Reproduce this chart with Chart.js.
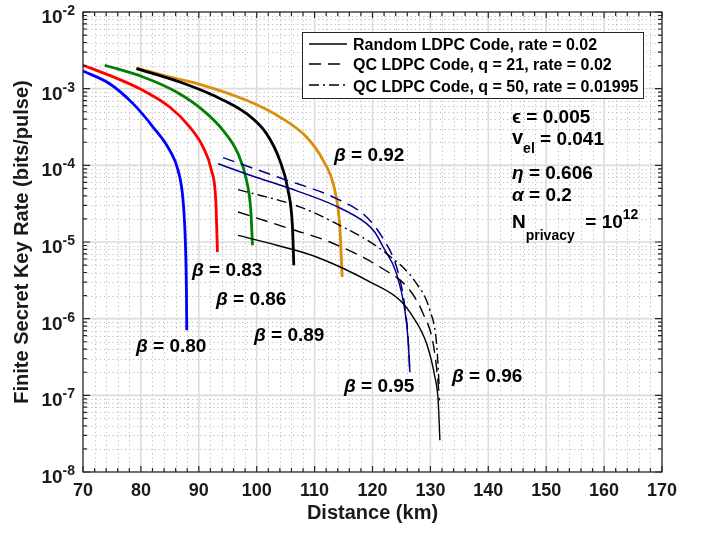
<!DOCTYPE html>
<html><head><meta charset="utf-8">
<script src="https://cdn.jsdelivr.net/npm/chart.js@4.4.0/dist/chart.umd.min.js"></script>
<style>html,body{margin:0;padding:0;background:#fff}</style>
</head><body>
<canvas id="c" width="705" height="535"></canvas>
<script>
// ---- data ----
const xTicks = [70, 80, 90, 100, 110, 120, 130, 140, 150, 160, 170];
const yTickExps = [-8, -7, -6, -5, -4, -3, -2];

const distB80 = [70, 74.61, 78.64, 82.10, 84.98, 86.42, 87.28, 87.69, 87.87, 87.92];
const rateB80 = [1.70e-3, 1.16e-3, 6.38e-4, 3.16e-4, 1.57e-4, 8.6e-5, 3.5e-5, 9.5e-6, 2.12e-6, 7.05e-7];

const distB83 = [70, 74.61, 80.37, 84.98, 88.44, 90.74, 92.19, 92.93, 93.22];
const rateB83 = [2.02e-3, 1.49e-3, 9.5e-4, 5.77e-4, 3.16e-4, 1.73e-4, 8.6e-5, 3.5e-5, 7.4e-6];

const distB86 = [73.75, 80.37, 86.14, 90.74, 94.19, 96.78, 98.24, 98.98, 99.27];
const rateB86 = [2.02e-3, 1.42e-3, 9.05e-4, 5.22e-4, 2.86e-4, 1.42e-4, 6.38e-5, 2.59e-5, 9.06e-6];

const distB89 = [79.23, 86.71, 92.46, 98.24, 101.69, 103.99, 105.42, 106.18, 106.41];
const rateB89 = [1.83e-3, 1.22e-3, 8.2e-4, 4.73e-4, 2.59e-4, 1.16e-4, 4.72e-5, 1.57e-5, 4.97e-6];

const distB92 = [79.23, 85.27, 90.17, 98.24, 103.99, 108.60, 111.47, 113.49, 114.36, 114.76];
const rateB92 = [1.86e-3, 1.40e-3, 1.14e-3, 7.05e-4, 4.27e-4, 2.34e-4, 1.16e-4, 4.72e-5, 1.57e-5, 3.5e-6];

const distB95Rand = [93.33, 99.38, 105.15, 113.79, 118.97, 120.41, 121.84, 124.16, 125.59, 126.16, 126.45];
const rateB95Rand = [1.05e-4, 7.2e-5, 5.17e-5, 2.92e-5, 1.74e-5, 1.34e-5, 8.6e-6, 3.87e-6, 1.29e-6, 5.2e-7, 2.0e-7];

const distB95QC21 = [94.19, 103.99, 113.79, 118.97, 121.79, 124.16, 125.42, 126.11, 126.45];
const rateB95QC21 = [1.26e-4, 6.88e-5, 3.68e-5, 2.12e-5, 1.12e-5, 4.72e-6, 1.74e-6, 6.07e-7, 2.06e-7];

const distB96Rand = [96.78, 103.47, 110.33, 120.11, 124.73, 127.02, 129.34, 130.78, 131.34, 131.64];
const rateB96Rand = [1.22e-5, 9.06e-6, 6.37e-6, 2.87e-6, 1.74e-6, 1.05e-6, 4.73e-7, 1.73e-7, 8.6e-8, 2.59e-8];

const distB96QC21 = [96.78, 105.73, 112.63, 121.27, 126.45, 128.75, 130.48, 131.34, 131.55];
const rateB96QC21 = [2.46e-5, 1.49e-5, 1.0e-5, 4.72e-6, 2.35e-6, 1.16e-6, 4.73e-7, 1.42e-7, 8.6e-8];

const distB96QC50 = [96.78, 107.44, 112.63, 122.43, 127.61, 129.91, 131.07, 131.52];
const rateB96QC50 = [4.83e-5, 2.87e-5, 1.92e-5, 7.06e-6, 2.87e-6, 1.29e-6, 4.73e-7, 1.29e-7];

const legendLabels = ['Random LDPC Code, rate = 0.02', 'QC LDPC Code, q = 21, rate = 0.02', 'QC LDPC Code, q = 50, rate = 0.01995'];

// ---- styling ----
const F = "'Liberation Sans', Arial, Helvetica, sans-serif";
const TXT = '#1a1a1a';
const DASH = [12, 7];
const DASHDOT = [10, 4, 2, 4];

function pts(xs, ys) { return xs.map((v, i) => ({ x: v, y: ys[i] })); }
function ds(label, xs, ys, color, width, dash) {
  return { label, data: pts(xs, ys), borderColor: color, borderWidth: width, borderDash: dash,
    pointRadius: 0, fill: false, cubicInterpolationMode: 'monotone', borderCapStyle: 'butt' };
}

const datasets = [
  ds('β=0.96 QC50', distB96QC50, rateB96QC50, '#000000', 1.4, DASHDOT),
  ds('β=0.96 QC21', distB96QC21, rateB96QC21, '#000000', 1.4, DASH),
  ds('β=0.96 Random', distB96Rand, rateB96Rand, '#000000', 1.4, []),
  ds('β=0.95 QC21', distB95QC21, rateB95QC21, '#00008c', 1.5, DASH),
  ds('β=0.95 Random', distB95Rand, rateB95Rand, '#00008c', 1.5, []),
  ds('β=0.89', distB89, rateB89, '#000000', 2.8, []),
  ds('β=0.92', distB92, rateB92, '#d98e0c', 2.8, []),
  ds('β=0.86', distB86, rateB86, '#008000', 2.8, []),
  ds('β=0.83', distB83, rateB83, '#ff0000', 2.8, []),
  ds('β=0.80', distB80, rateB80, '#0000ff', 2.8, []),
];

function rich(ctx, x, y, parts) {
  let cx = x;
  for (const p of parts) {
    ctx.font = (p.i ? 'italic ' : '') + 'bold ' + p.s + 'px ' + F;
    ctx.fillText(p.t, cx, y + (p.dy || 0));
    cx += ctx.measureText(p.t).width;
  }
  return cx;
}

const matlabPlugin = {
  id: 'matlab',
  beforeDatasetsDraw(chart) {
    const { ctx, chartArea: a, scales: { x, y } } = chart;
    ctx.save();
    ctx.strokeStyle = '#bdbdbd'; ctx.lineWidth = 1; ctx.setLineDash([1.2, 3]);
    ctx.beginPath();
    for (let v = xTicks[0]; v <= xTicks[xTicks.length - 1]; v += 2) {
      if (v % 10 === 0) continue;
      const px = Math.round(x.getPixelForValue(v)) + 0.5;
      ctx.moveTo(px, a.top); ctx.lineTo(px, a.bottom);
    }
    for (let e = yTickExps[0]; e < yTickExps[yTickExps.length - 1]; e++) {
      for (let k = 2; k <= 9; k++) {
        const py = Math.round(y.getPixelForValue(k * Math.pow(10, e))) + 0.5;
        ctx.moveTo(a.left, py); ctx.lineTo(a.right, py);
      }
    }
    ctx.stroke();
    ctx.setLineDash([]); ctx.strokeStyle = '#dcdcdc'; ctx.lineWidth = 1.6;
    ctx.beginPath();
    xTicks.forEach(v => { const px = x.getPixelForValue(v); ctx.moveTo(px, a.top); ctx.lineTo(px, a.bottom); });
    yTickExps.forEach(e => { const py = y.getPixelForValue(Math.pow(10, e)); ctx.moveTo(a.left, py); ctx.lineTo(a.right, py); });
    ctx.stroke();
    ctx.restore();
  },
  afterDraw(chart) {
    const { ctx, chartArea: a, scales: { x, y } } = chart;
    ctx.save();
    ctx.strokeStyle = '#262626'; ctx.lineWidth = 1.2; ctx.setLineDash([]);
    ctx.strokeRect(a.left, a.top, a.right - a.left, a.bottom - a.top);
    ctx.beginPath();
    for (let v = xTicks[0]; v <= xTicks[xTicks.length - 1]; v += 2) {
      const px = x.getPixelForValue(v);
      const L = (v % 10 === 0) ? 6 : 4;
      ctx.moveTo(px, a.bottom); ctx.lineTo(px, a.bottom - L);
      ctx.moveTo(px, a.top); ctx.lineTo(px, a.top + L);
    }
    for (let e = yTickExps[0]; e <= yTickExps[yTickExps.length - 1]; e++) {
      const py = y.getPixelForValue(Math.pow(10, e));
      ctx.moveTo(a.left, py); ctx.lineTo(a.left + 7, py);
      ctx.moveTo(a.right, py); ctx.lineTo(a.right - 7, py);
      if (e < yTickExps[yTickExps.length - 1]) {
        for (let k = 2; k <= 9; k++) {
          const q = y.getPixelForValue(k * Math.pow(10, e));
          ctx.moveTo(a.left, q); ctx.lineTo(a.left + 4, q);
          ctx.moveTo(a.right, q); ctx.lineTo(a.right - 4, q);
        }
      }
    }
    ctx.stroke();

    // y tick labels 10^e
    ctx.fillStyle = TXT; ctx.textBaseline = 'alphabetic'; ctx.textAlign = 'left';
    yTickExps.forEach(e => {
      const py = y.getPixelForValue(Math.pow(10, e));
      ctx.font = 'bold 19px ' + F; const w1 = ctx.measureText('10').width;
      ctx.font = 'bold 14px ' + F; const w2 = ctx.measureText(String(e)).width;
      const x0 = a.left - 8 - w1 - w2;
      rich(ctx, x0, py + 11, [{ t: '10', s: 19 }, { t: String(e), s: 14, dy: -8 }]);
    });

    // axis titles
    ctx.font = 'bold 20px ' + F; ctx.textAlign = 'center'; ctx.textBaseline = 'middle';
    ctx.fillText('Distance (km)', (a.left + a.right) / 2, 513);
    ctx.save();
    ctx.translate(22, (a.top + a.bottom) / 2); ctx.rotate(-Math.PI / 2);
    ctx.fillText('Finite Secret Key Rate (bits/pulse)', 0, 0);
    ctx.restore();

    // beta annotations
    ctx.textAlign = 'left'; ctx.textBaseline = 'alphabetic'; ctx.fillStyle = '#000';
    const betaLabels = [['0.92', 334, 161], ['0.83', 192, 276], ['0.86', 216, 305], ['0.89', 254, 341],
                        ['0.80', 136, 352], ['0.95', 344, 392], ['0.96', 452, 382]];
    betaLabels.forEach(([t, bx, by]) => rich(ctx, bx, by, [{ t: 'β', s: 19, i: true }, { t: ' = ' + t, s: 19 }]));

    // parameter annotations
    rich(ctx, 512, 123, [{ t: 'ϵ', s: 19 }, { t: ' = 0.005', s: 19 }]);
    rich(ctx, 512, 144, [{ t: 'v', s: 20 }, { t: 'el', s: 14, dy: 9 }, { t: ' = 0.041', s: 19, dy: 1 }]);
    rich(ctx, 512, 179, [{ t: 'η', s: 19, i: true }, { t: ' = 0.606', s: 19 }]);
    rich(ctx, 512, 201, [{ t: 'α', s: 19, i: true }, { t: ' = 0.2', s: 19 }]);
    rich(ctx, 512, 228, [{ t: 'N', s: 19 }, { t: 'privacy', s: 14, dy: 12 }]);
    rich(ctx, 580, 228, [{ t: ' = 10', s: 19 }, { t: '12', s: 14, dy: -9 }]);

    // legend
    const lx = 302, ly = 32, lw = 341, lh = 66;
    ctx.fillStyle = '#fff'; ctx.fillRect(lx, ly, lw, lh);
    ctx.strokeStyle = '#262626'; ctx.lineWidth = 1; ctx.strokeRect(lx + 0.5, ly + 0.5, lw, lh);
    const rows = [[44, [], 50], [64, DASH, 70], [85, DASHDOT, 91.5]];
    rows.forEach(([ry, dash, bl], i) => {
      ctx.strokeStyle = '#000'; ctx.lineWidth = 1.5; ctx.setLineDash(dash);
      ctx.beginPath(); ctx.moveTo(309, ry); ctx.lineTo(347, ry); ctx.stroke();
      ctx.setLineDash([]);
      ctx.fillStyle = '#000'; ctx.font = 'bold 16px ' + F;
      ctx.fillText(legendLabels[i], 353, bl);
    });
    ctx.restore();
  }
};

new Chart(document.getElementById('c'), {
  type: 'line',
  data: { datasets },
  options: {
    responsive: false, animation: false, devicePixelRatio: 1,
    layout: { padding: { top: 12, right: 43, left: 0, bottom: 0 } },
    plugins: { legend: { display: false }, tooltip: { enabled: false } },
    scales: {
      x: {
        type: 'linear', min: 70, max: 170,
        afterBuildTicks: s => { s.ticks = xTicks.map(v => ({ value: v })); },
        afterFit: s => { s.height = 63; },
        grid: { display: false, drawTicks: false }, border: { display: false },
        ticks: { color: TXT, font: { family: F, size: 18, weight: 'bold' }, padding: 8, maxRotation: 0, autoSkip: false }
      },
      y: {
        type: 'logarithmic', min: 1e-8, max: 1e-2,
        afterBuildTicks: s => { s.ticks = yTickExps.map(e => ({ value: Math.pow(10, e) })); },
        afterFit: s => { s.width = 83; },
        grid: { display: false, drawTicks: false }, border: { display: false },
        ticks: { display: false }
      }
    }
  },
  plugins: [matlabPlugin]
});
</script>
</body></html>
